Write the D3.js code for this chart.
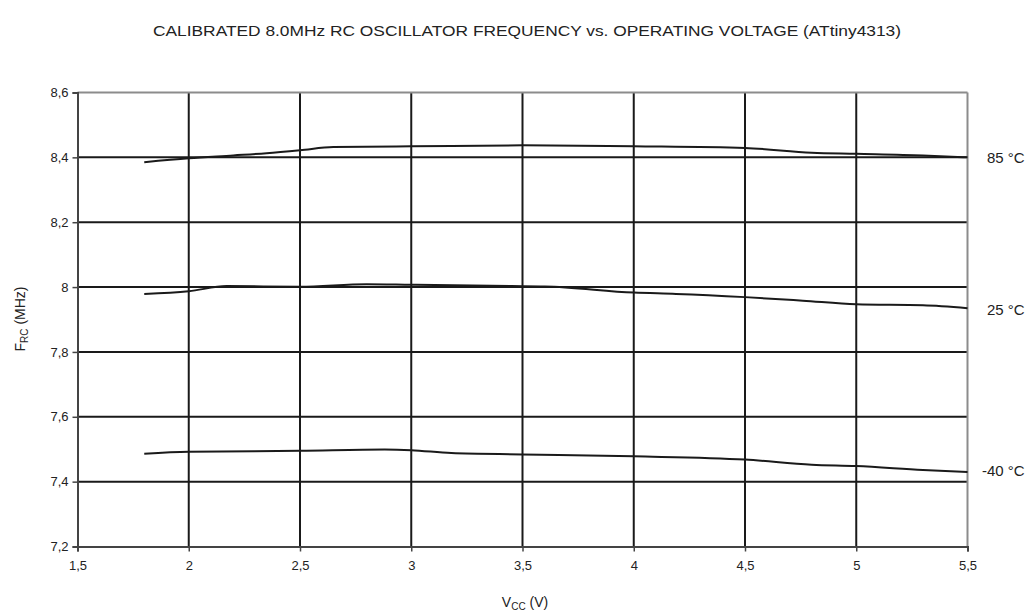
<!DOCTYPE html>
<html>
<head>
<meta charset="utf-8">
<script src="https://cdn.jsdelivr.net/npm/d3@7"></script>
<style>
  body { margin: 0; background: #fff; }
  text { font-family: "Liberation Sans", Arial, sans-serif; fill: #222; }
</style>
</head>
<body>
<svg width="1034" height="614"></svg>
<script>
var voltage = [1.8, 2.0, 2.2, 2.35, 2.5, 2.65, 3.0, 3.5, 4.0, 4.5, 4.8, 5.0, 5.3, 5.5];
var f85 =     [8.385, 8.397, 8.406, 8.413, 8.422, 8.432, 8.434, 8.437, 8.434, 8.429, 8.414, 8.411, 8.406, 8.400];

var voltage25 = [1.8, 2.0, 2.17, 2.5, 2.8, 3.0, 3.45, 3.6, 4.0, 4.19, 4.5, 4.76, 5.0, 5.3, 5.5];
var f25 =       [7.979, 7.987, 8.003, 8.001, 8.009, 8.007, 8.003, 8.002, 7.983, 7.979, 7.969, 7.958, 7.947, 7.944, 7.935];

var voltageM40 = [1.8, 2.0, 2.5, 2.88, 3.0, 3.18, 3.5, 4.0, 4.5, 4.8, 5.0, 5.3, 5.5];
var fM40 =       [7.486, 7.492, 7.495, 7.499, 7.497, 7.488, 7.484, 7.478, 7.468, 7.452, 7.448, 7.436, 7.430];

var series = [
    { label: "85 °C", x: voltage, y: f85 },
    { label: "25 °C", x: voltage25, y: f25 },
    { label: "-40 °C", x: voltageM40, y: fM40 }
];

var xTicks = [1.5, 2, 2.5, 3, 3.5, 4, 4.5, 5, 5.5];
var yTicks = [7.2, 7.4, 7.6, 7.8, 8.0, 8.2, 8.4, 8.6];

var svg = d3.select("svg"),
    plotLeft = 77.5, plotRight = 967.5, plotTop = 92.5, plotBottom = 546.5;

var x = d3.scaleLinear().domain([1.5, 5.5]).range([plotLeft, plotRight]);
var y = d3.scaleLinear().domain([7.2, 8.6]).range([plotBottom, plotTop]);

var comma = function (d) { return String(+d.toFixed(1)).replace(".", ","); };

// title
svg.append("text")
    .attr("x", 527).attr("y", 36)
    .attr("text-anchor", "middle")
    .attr("font-size", "15px")
    .attr("textLength", 748)
    .attr("lengthAdjust", "spacingAndGlyphs")
    .text("CALIBRATED 8.0MHz RC OSCILLATOR FREQUENCY vs. OPERATING VOLTAGE  (ATtiny4313)");

// grid
svg.append("g").selectAll("line")
    .data(yTicks.slice(1, -1))
    .enter().append("line")
    .attr("x1", plotLeft).attr("x2", plotRight)
    .attr("y1", function (d) { return y(d); })
    .attr("y2", function (d) { return y(d); })
    .attr("stroke", "#1a1a1a").attr("stroke-width", 2);

svg.append("g").selectAll("line")
    .data(xTicks.slice(1, -1))
    .enter().append("line")
    .attr("y1", plotTop).attr("y2", plotBottom)
    .attr("x1", function (d) { return x(d); })
    .attr("x2", function (d) { return x(d); })
    .attr("stroke", "#1a1a1a").attr("stroke-width", 2);

// frame: top & right grey
svg.append("line").attr("x1", plotLeft).attr("x2", plotRight).attr("y1", plotTop).attr("y2", plotTop)
    .attr("stroke", "#8c8c8c").attr("stroke-width", 2);
svg.append("line").attr("x1", plotRight).attr("x2", plotRight).attr("y1", plotTop).attr("y2", plotBottom)
    .attr("stroke", "#8c8c8c").attr("stroke-width", 2);

// axes
var yAxis = svg.append("g")
    .attr("transform", "translate(" + plotLeft + ",0)")
    .call(d3.axisLeft(y).tickValues(yTicks).tickFormat(comma).tickSize(5).tickPadding(4));
var xAxis = svg.append("g")
    .attr("transform", "translate(0," + plotBottom + ")")
    .call(d3.axisBottom(x).tickValues(xTicks).tickFormat(comma).tickSize(5).tickPadding(9));

[yAxis, xAxis].forEach(function (a) {
    a.select(".domain").attr("stroke", "#444").attr("stroke-width", 2);
    a.selectAll(".tick line").attr("stroke", "#444").attr("stroke-width", 1.5);
    a.selectAll("text").attr("font-size", "13px").attr("fill", "#222")
        .attr("font-family", "Liberation Sans, Arial, sans-serif");
});

// curves
var line = d3.line()
    .x(function (d) { return x(d[0]); })
    .y(function (d) { return y(d[1]); })
    .curve(d3.curveMonotoneX);

svg.append("g").selectAll("path")
    .data(series)
    .enter().append("path")
    .attr("d", function (s) { return line(d3.zip(s.x, s.y)); })
    .attr("fill", "none")
    .attr("stroke", "#1a1a1a")
    .attr("stroke-width", 2);

// series labels on the right
svg.append("g").selectAll("text")
    .data(series)
    .enter().append("text")
    .attr("x", function (d) { return d.label.charAt(0) === "-" ? 982 : 987; })
    .attr("y", function (d, i) { return [163, 315, 476][i]; })
    .attr("font-size", "15px")
    .text(function (d) { return d.label; });

// axis titles
var yt = svg.append("text")
    .attr("transform", "translate(25,319) rotate(-90)")
    .attr("text-anchor", "middle")
    .attr("font-size", "14px");
yt.append("tspan").text("F");
yt.append("tspan").attr("font-size", "10px").attr("dy", 3).text("RC");
yt.append("tspan").attr("dy", -3).text(" (MHz)");

var xt = svg.append("text")
    .attr("x", 525).attr("y", 607)
    .attr("text-anchor", "middle")
    .attr("font-size", "14px");
xt.append("tspan").text("V");
xt.append("tspan").attr("font-size", "10px").attr("dy", 3).text("CC");
xt.append("tspan").attr("dy", -3).text(" (V)");
</script>
</body>
</html>
